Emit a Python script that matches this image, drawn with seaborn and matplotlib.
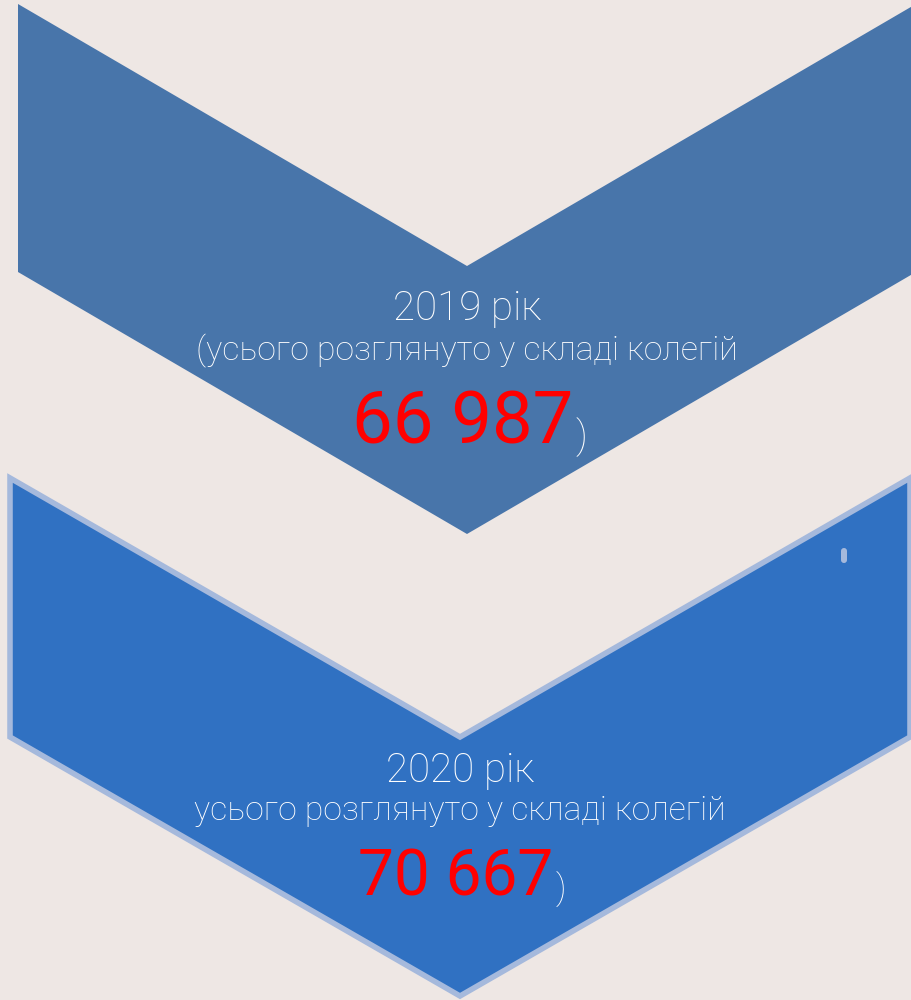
import matplotlib
matplotlib.use("Agg")
import matplotlib.pyplot as plt
from matplotlib.patches import Polygon, FancyBboxPatch
import seaborn as sns

# дані
years = ["2019 рік", "2020 рік"]
subtitles = ["(усього розглянуто у складі колегій", "усього розглянуто у складі колегій"]
totals = [66987, 70667]

BG = "#EEE7E4"
FILLS = ["#4875AA", "#3071C2"]
EDGES = [None, "#A5B9DC"]
WHITE = "#FFFFFF"
RED = "#FF0000"

sns.set_theme(style="white", rc={"figure.facecolor": BG, "axes.facecolor": BG})
plt.rcParams["font.family"] = ["Roboto", "DejaVu Sans"]


def chevron(x0, x1, top, depth, height):
    xc = (x0 + x1) / 2
    return [(x0, top), (xc, top + depth), (x1, top), (x1, top + height),
            (xc, top + height + depth), (x0, top + height)]


def fmt(v):
    return f"{v:,}".replace(",", " ")


fig = plt.figure(figsize=(9.11, 10), dpi=100)
ax = fig.add_axes([0, 0, 1, 1])
ax.set_xlim(0, 911)
ax.set_ylim(1000, 0)
ax.axis("off")

# шеврони (геометрія в пікселях)
shapes = [
    dict(x0=18, x1=916, top=4, depth=262, height=268),
    dict(x0=10, x1=910, top=478, depth=259, height=259),
]
for i, s in enumerate(shapes):
    pts = chevron(**s)
    if EDGES[i]:
        ax.add_patch(Polygon(pts, closed=True, facecolor=FILLS[i], edgecolor=EDGES[i],
                             linewidth=4, joinstyle="miter"))
    else:
        ax.add_patch(Polygon(pts, closed=True, facecolor=FILLS[i], edgecolor="none"))

# маленька позначка
ax.add_patch(FancyBboxPatch((841, 548), 6, 15, boxstyle="round,pad=0,rounding_size=3",
                            facecolor=EDGES[1], edgecolor="none"))

# тексти
layout = [
    dict(cx=467, y_year=320, y_sub=360, y_num=443, year_fs=29, sub_fs=24.3, num_fs=52, par_fs=28),
    dict(cx=460, y_year=782, y_sub=820, y_num=895, year_fs=29, sub_fs=24.3, num_fs=46, par_fs=25),
]
fig.canvas.draw()
r = fig.canvas.get_renderer()
for i, L in enumerate(layout):
    ax.text(L["cx"], L["y_year"], years[i], color=WHITE, fontsize=L["year_fs"],
            ha="center", va="baseline", fontweight="light")
    ax.text(L["cx"], L["y_sub"], subtitles[i], color=WHITE, fontsize=L["sub_fs"],
            ha="center", va="baseline", fontweight="light")
    num = ax.text(L["cx"] - 4, L["y_num"], fmt(totals[i]), color=RED, fontsize=L["num_fs"],
                  ha="center", va="baseline")
    bb = num.get_window_extent(renderer=r)
    x_right = ax.transData.inverted().transform((bb.x1, bb.y0))[0]
    ax.text(x_right + 2, L["y_num"] + 5, ")", color=WHITE, fontsize=L["par_fs"],
            ha="left", va="baseline", fontweight="light")

fig.savefig("out.png", dpi=100, facecolor=BG)
